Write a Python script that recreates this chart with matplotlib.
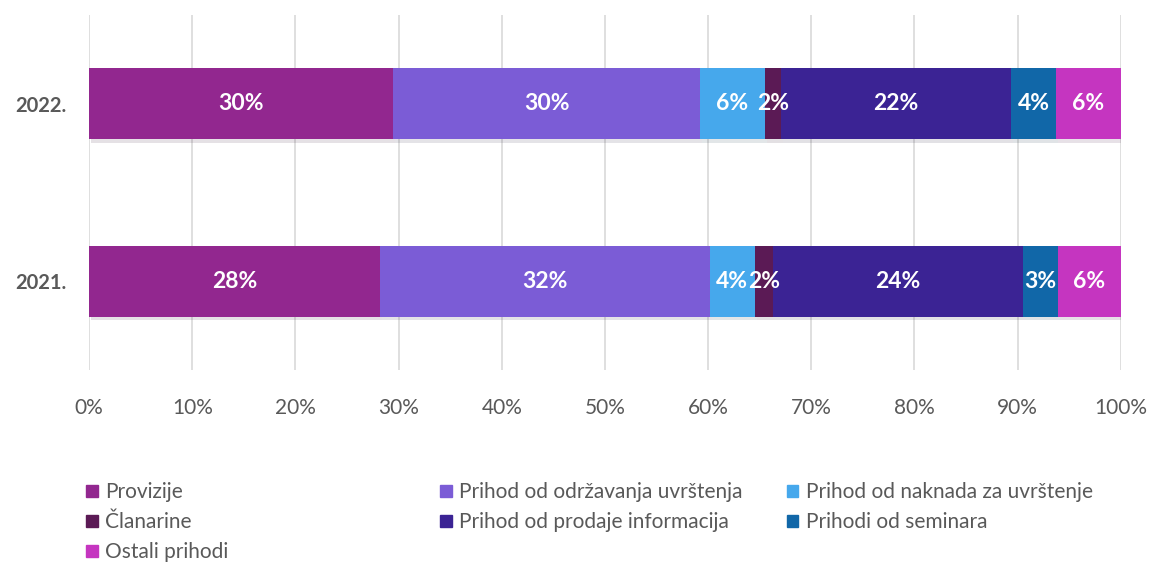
import matplotlib.pyplot as plt
import matplotlib.patheffects as pe
from matplotlib.patches import Patch
import numpy as np

plt.rcParams['font.family'] = ['Lato', 'DejaVu Sans']

# Podaci
godine = ['2021.', '2022.']
kategorije = ['Provizije', 'Prihod od održavanja uvrštenja', 'Prihod od naknada za uvrštenje',
              'Članarine', 'Prihod od prodaje informacija', 'Prihodi od seminara', 'Ostali prihodi']
vrijednosti_2021 = [28.2, 32.0, 4.3, 1.8, 24.2, 3.4, 6.1]
vrijednosti_2022 = [29.5, 29.7, 6.3, 1.55, 22.3, 4.4, 6.25]
boje = ['#92278F', '#7B5CD6', '#46A8EC', '#5B1A55', '#3B2394', '#1167A8', '#C535C0']

podaci = np.array([vrijednosti_2021, vrijednosti_2022])
podaci = podaci / podaci.sum(axis=1, keepdims=True) * 100

fig = plt.figure(figsize=(11.52, 5.63), dpi=100)
ax = fig.add_axes([0.0773, 0.343, 0.8956, 0.630])

y = np.arange(len(godine))
lijevo = np.zeros(len(godine))
for i, kat in enumerate(kategorije):
    bars = ax.barh(y, podaci[:, i], left=lijevo, height=0.4, color=boje[i], label=kat,
                   path_effects=[pe.SimplePatchShadow(offset=(1.5, -2.5), alpha=0.12), pe.Normal()],
                   zorder=3)
    for b, v in zip(bars, podaci[:, i]):
        ax.text(b.get_x() + b.get_width() / 2, b.get_y() + b.get_height() / 2,
                f'{round(v):.0f}%', ha='center', va='center', color='white',
                fontsize=16.5, fontweight='bold', zorder=4)
    lijevo += podaci[:, i]

ax.set_xlim(0, 100)
ax.set_ylim(-0.5, 1.5)
ax.set_xticks(np.arange(0, 101, 10))
ax.set_xticklabels([f'{t}%' for t in range(0, 101, 10)])
ax.set_yticks(y)
ax.set_yticklabels(godine, fontweight='bold')
ax.tick_params(axis='x', colors='#595959', labelsize=15, length=0, pad=20)
ax.tick_params(axis='y', colors='#595959', labelsize=14.5, length=0, pad=16)
ax.grid(axis='x', color='#D9D9D9', linewidth=1.2, zorder=0)
for s in ax.spines.values():
    s.set_visible(False)

# Legenda u tri stupca
ruke = [Patch(color=c) for c in boje]
stupci = [[0, 3, 6], [1, 4], [2, 5]]
pozicije = [0.075, 0.382, 0.683]
for st, px in zip(stupci, pozicije):
    fig.legend([ruke[k] for k in st], [kategorije[k] for k in st], loc='upper left',
               bbox_to_anchor=(px, 0.143), frameon=False, fontsize=15,
               labelcolor='#595959', handlelength=0.55, handleheight=0.55,
               handletextpad=0.35, labelspacing=0.48, borderaxespad=0, borderpad=0)

fig.savefig('out.png', dpi=100)
